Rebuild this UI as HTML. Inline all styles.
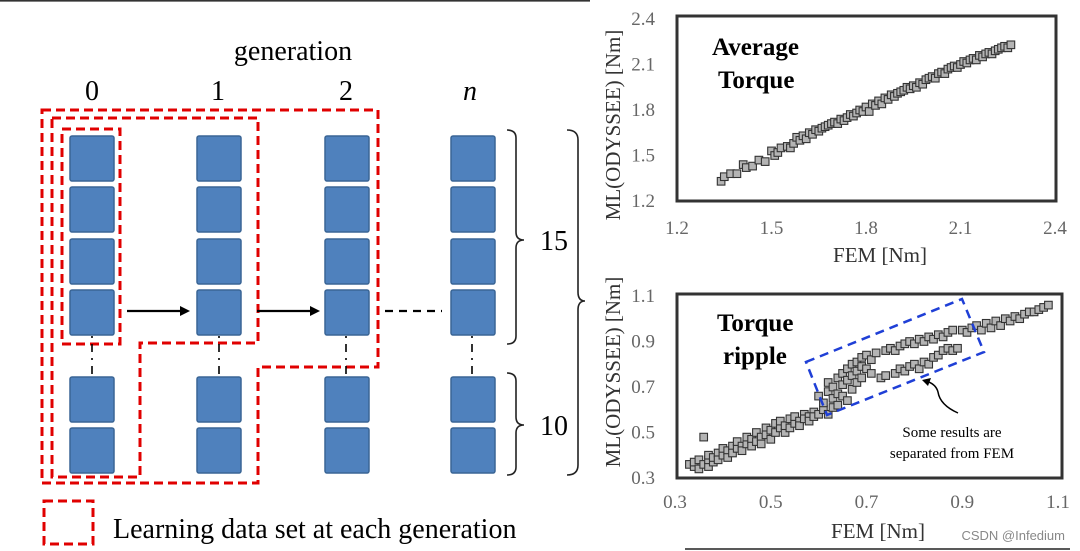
<!DOCTYPE html>
<html><head><meta charset="utf-8"><style>
html,body{margin:0;padding:0;background:#fff;width:1080px;height:551px;overflow:hidden}
svg{display:block}
svg text{font-family:"Liberation Serif","DejaVu Serif",serif}
svg text.sans{font-family:"Liberation Sans",sans-serif}
</style></head><body>
<svg id="c" width="1080" height="551" viewBox="0 0 1080 551" xmlns="http://www.w3.org/2000/svg">
<line x1="0" y1="0.8" x2="590" y2="0.8" stroke="#333" stroke-width="1.6"/>
<g id="diagram">
<text x="293" y="60" font-size="28" text-anchor="middle">generation</text>
<text x="92" y="100" font-size="28" text-anchor="middle">0</text>
<text x="218" y="100" font-size="28" text-anchor="middle">1</text>
<text x="346" y="100" font-size="28" text-anchor="middle">2</text>
<text x="470" y="100" font-size="28" text-anchor="middle" font-style="italic">n</text>
<g id="boxes"></g>
<g fill="none" stroke="#e00000" stroke-width="3" stroke-dasharray="9,5">
<rect x="62" y="129" width="58" height="215"/>
<path d="M52 118 H258 V343 H140 V477 H52 Z"/>
<path d="M42 110 H378 V367 H258 V483 H42 Z"/>
<rect x="44" y="501" width="49" height="43"/>
</g>
<text x="113" y="538" font-size="28">Learning data set at each generation</text>
<g stroke="#000" stroke-width="2.2">
<line x1="127" y1="311" x2="182" y2="311"/>
<line x1="257" y1="311" x2="312" y2="311"/>
<line x1="385" y1="311" x2="442" y2="311" stroke-dasharray="8,6"/>
</g>
<polygon points="190,311 180,306 180,316" fill="#000"/>
<polygon points="320,311 310,306 310,316"  fill="#000"/>
<g stroke="#000" stroke-width="1.6" stroke-dasharray="2,6,8,6">
<line x1="92" y1="336" x2="92" y2="375"/><line x1="219" y1="336" x2="219" y2="375"/>
<line x1="346" y1="336" x2="346" y2="375"/><line x1="472" y1="336" x2="472" y2="375"/>
</g>
<g fill="none" stroke="#222" stroke-width="1.6">
<path d="M507 130 Q516 130 516 138 V232 Q516 240 524 240 Q516 240 516 248 V336 Q516 344 507 344"/>
<path d="M507 373 Q516 373 516 381 V417 Q516 425 524 425 Q516 425 516 433 V467 Q516 475 507 475"/>
<path d="M567 130 Q578 130 578 140 V292 Q578 301 585 301 Q578 301 578 310 V465 Q578 475 567 475"/>
</g>
<text x="540" y="250" font-size="28">15</text>
<text x="540" y="435" font-size="28">10</text>
</g>

<g id="top">
<rect x="677" y="16" width="379" height="185" fill="none" stroke="#333" stroke-width="3"/>
<g id="topMarks"></g>
<g id="topTicks" font-size="19" fill="#666"></g>
<text x="880" y="262" font-size="21" text-anchor="middle" fill="#333">FEM [Nm]</text>
<text transform="translate(620,125) rotate(-90)" font-size="21" text-anchor="middle" fill="#333">ML(ODYSSEE) [Nm]</text>
<text x="712" y="55" font-size="25" font-weight="bold">Average</text>
<text x="718" y="88" font-size="25" font-weight="bold">Torque</text>
</g>

<g id="bot">
<rect x="677" y="294" width="385" height="184" fill="none" stroke="#333" stroke-width="3"/>
<g id="botMarks"></g>
<g id="botTicks" font-size="19" fill="#666"></g>
<polygon points="806,362 962,299 984,352 827,415" fill="none" stroke="#1f3fd6" stroke-width="2.5" stroke-dasharray="9,6"/>
<path d="M958 413 Q940 405 938 392 Q936 384 926 381" fill="none" stroke="#000" stroke-width="1.5"/>
<polygon points="922,380 931,378 928,386" fill="#000"/>
<text x="952" y="437" font-size="15" text-anchor="middle">Some results are</text>
<text x="952" y="458" font-size="15" text-anchor="middle">separated from FEM</text>
<text x="878" y="538" font-size="21" text-anchor="middle" fill="#333">FEM [Nm]</text>
<text transform="translate(620,372) rotate(-90)" font-size="21" text-anchor="middle" fill="#333">ML(ODYSSEE) [Nm]</text>
<text x="717" y="331" font-size="25" font-weight="bold">Torque</text>
<text x="723" y="364" font-size="25" font-weight="bold">ripple</text>
</g>
<line x1="685" y1="549" x2="1070" y2="549" stroke="#222" stroke-width="1.5"/>
<text class="sans" x="1065" y="540" font-size="13" fill="#888" text-anchor="end">CSDN @Infedium</text>
</svg>
<script>
const topTickLabels = ["1.2","1.5","1.8","2.1","2.4"];
const topFem = [1.34,1.35,1.37,1.39,1.41,1.42,1.44,1.46,1.48,1.50,1.51,1.52,1.53,1.55,1.56,1.57,1.58,1.59,1.60,1.61,1.62,1.63,1.64,1.65,1.66,1.67,1.68,1.69,1.70,1.71,1.72,1.73,1.74,1.75,1.76,1.77,1.78,1.79,1.80,1.81,1.82,1.83,1.84,1.85,1.86,1.87,1.88,1.89,1.90,1.91,1.92,1.93,1.94,1.95,1.96,1.97,1.98,1.99,2.00,2.01,2.02,2.03,2.04,2.05,2.06,2.07,2.08,2.09,2.10,2.11,2.12,2.13,2.14,2.15,2.16,2.17,2.18,2.19,2.20,2.21,2.22,2.23,2.24,2.25,2.26];
const topMl = [1.33,1.36,1.38,1.38,1.44,1.42,1.43,1.47,1.46,1.53,1.50,1.52,1.55,1.56,1.55,1.58,1.62,1.60,1.63,1.61,1.65,1.64,1.67,1.66,1.68,1.69,1.70,1.71,1.72,1.71,1.74,1.73,1.75,1.77,1.76,1.78,1.80,1.79,1.82,1.79,1.84,1.83,1.86,1.84,1.88,1.87,1.90,1.89,1.91,1.92,1.93,1.95,1.94,1.96,1.95,1.98,1.97,2.00,2.01,2.02,2.01,2.04,2.05,2.04,2.07,2.08,2.09,2.08,2.10,2.12,2.11,2.13,2.14,2.13,2.16,2.15,2.17,2.18,2.17,2.19,2.20,2.21,2.22,2.21,2.23,2.24];
const botTickLabels = ["0.3","0.5","0.7","0.9","1.1"];
const botFem = [0.33,0.34,0.34,0.35,0.35,0.36,0.36,0.37,0.37,0.37,0.38,0.38,0.39,0.39,0.40,0.40,0.41,0.41,0.42,0.42,0.43,0.43,0.44,0.44,0.45,0.45,0.46,0.46,0.47,0.47,0.48,0.48,0.49,0.49,0.50,0.50,0.51,0.51,0.52,0.52,0.53,0.53,0.54,0.54,0.55,0.55,0.56,0.56,0.57,0.57,0.58,0.58,0.59,0.59,0.60,0.60,0.61,0.61,0.62,0.62,0.62,0.63,0.63,0.63,0.64,0.64,0.64,0.65,0.65,0.65,0.66,0.66,0.66,0.67,0.67,0.67,0.68,0.68,0.68,0.69,0.69,0.69,0.70,0.70,0.71,0.71,0.72,0.74,0.75,0.76,0.77,0.78,0.79,0.80,0.81,0.82,0.83,0.84,0.85,0.86,0.87,0.88,0.90,0.91,0.92,0.93,0.94,0.95,0.96,0.97,0.98,0.99,1.00,1.01,1.02,1.03,1.04,1.05,1.06,1.07,1.08,0.73,0.74,0.76,0.77,0.78,0.79,0.80,0.81,0.82,0.83,0.84,0.85,0.86,0.87,0.88,0.89];
const botMl = [0.36,0.35,0.37,0.34,0.38,0.36,0.48,0.35,0.38,0.40,0.37,0.39,0.41,0.38,0.40,0.43,0.42,0.39,0.44,0.41,0.43,0.46,0.44,0.42,0.45,0.48,0.47,0.44,0.46,0.50,0.48,0.45,0.52,0.49,0.51,0.47,0.54,0.50,0.52,0.55,0.50,0.53,0.56,0.52,0.54,0.57,0.55,0.53,0.58,0.56,0.57,0.55,0.59,0.57,0.58,0.66,0.60,0.63,0.68,0.58,0.72,0.65,0.70,0.61,0.74,0.67,0.62,0.76,0.71,0.66,0.78,0.73,0.64,0.80,0.69,0.75,0.77,0.81,0.72,0.79,0.83,0.74,0.84,0.78,0.82,0.76,0.85,0.86,0.87,0.86,0.88,0.89,0.90,0.89,0.91,0.90,0.92,0.91,0.93,0.92,0.94,0.95,0.95,0.94,0.96,0.97,0.95,0.98,0.96,0.99,0.97,1.00,0.99,1.01,1.00,1.02,1.03,1.03,1.04,1.05,1.06,0.74,0.75,0.76,0.78,0.77,0.79,0.80,0.78,0.81,0.80,0.83,0.84,0.86,0.87,0.86,0.87];

const NS='http://www.w3.org/2000/svg';
function mk(tag,attrs,parent){const e=document.createElementNS(NS,tag);for(const k in attrs)e.setAttribute(k,attrs[k]);parent.appendChild(e);return e;}
function lin(d0,d1,r0,r1){return v=>r0+(v-d0)/(d1-d0)*(r1-r0);}

const bx=document.getElementById('boxes');
const cols=[70,197,325,451], rows=[136,187,239,290,377,428];
cols.forEach((cx,i)=>rows.forEach((ry,j)=>{
  const r=mk('rect',{x:cx,y:ry,width:44,height:45,rx:2,fill:'#4f81bd',stroke:'#3a6595','stroke-width':1.5},bx);
  
  
}));

function chart(marksId,ticksId,xs,ys,labels,d0,d1,xr0,xr1,yr0,yr1,xLabY,yLabX){
  const sx=lin(d0,d1,xr0,xr1), sy=lin(d0,d1,yr0,yr1);
  const g=document.getElementById(marksId), t=document.getElementById(ticksId);
  const n=Math.min(xs.length,ys.length);
  for(let i=0;i<n;i++){
    const r=mk('rect',{x:(sx(xs[i])-3.8).toFixed(1),y:(sy(ys[i])-3.8).toFixed(1),width:7.6,height:7.6,fill:'#b4b4b4',stroke:'#333','stroke-width':1.1},g);
    
    
  }
  labels.forEach(l=>{
    const v=parseFloat(l);
    const a=mk('text',{x:sx(v),y:xLabY,'text-anchor':'middle'},t);a.textContent=l;
    
    
    const b=mk('text',{x:yLabX,y:sy(v)+6,'text-anchor':'end'},t);b.textContent=l;
    
    
  });
}
chart('topMarks','topTicks',topFem,topMl,topTickLabels,1.2,2.4,677,1055,201,19,234,655);
chart('botMarks','botTicks',botFem,botMl,botTickLabels,0.3,1.1,675,1058,478,296,508,655);
</script>
</body></html>
